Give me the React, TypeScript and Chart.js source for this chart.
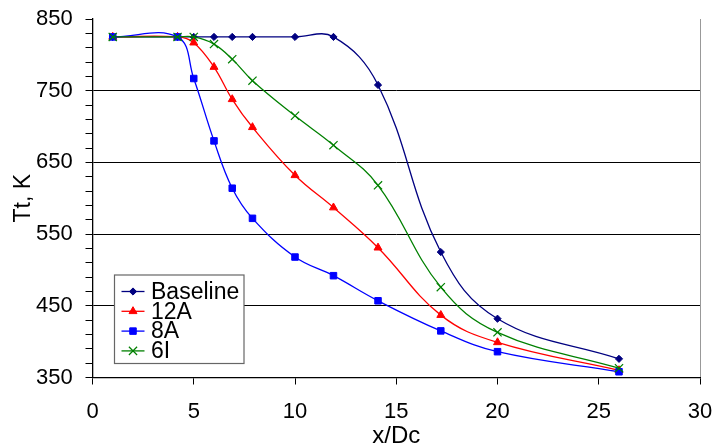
import React, { useEffect, useRef } from 'react';
import { Chart, registerables } from 'chart.js';
import { drawPoint } from 'chart.js/helpers';

Chart.register(...registerables);

// ---- data ----
const xPositions = [1, 4.2, 5, 6, 6.9, 7.9, 10, 11.9, 14.1, 17.2, 20, 26];
const baselineValues = [825, 825, 825, 825, 825, 825, 825, 825, 758, 525, 432, 376];
const values12A = [825, 825, 817, 783, 738, 699, 632, 587, 531, 437, 399, 360];
const values8A = [825, 825, 767, 680, 614, 572, 518, 492, 457, 415, 386, 358];
const values6I = [825, 825, 825, 815, 794, 764, 715, 674, 618, 476, 413, 363];
const seriesNames = ['Baseline', '12A', '8A', '6I'];
const xTickValues = [0, 5, 10, 15, 20, 25, 30];
const yTickLabels = [350, 450, 550, 650, 750, 850];

const FONT = '"Liberation Sans", Arial, sans-serif';

const seriesStyles = [
  { color: '#000080', pointStyle: 'rectRot', radius: 3.6, borderWidth: 1 },
  { color: '#FF0000', pointStyle: 'triangle', radius: 4.6, borderWidth: 1 },
  { color: '#0000FF', pointStyle: 'rect', radius: 4.6, borderWidth: 1 },
  { color: '#008000', pointStyle: 'crossRot', radius: 5.8, borderWidth: 1.2 },
];

const seriesValues = [baselineValues, values12A, values8A, values6I];

// desired plot-area frame inside the 713x444 canvas
const AREA = { left: 92.5, top: 19, right: 700, bottom: 377.5 };

const boxLegend = {
  id: 'boxLegend',
  afterDatasetsDraw(chart: any) {
    const { ctx, chartArea } = chart;
    const left = chartArea.left + 22;
    const top = chartArea.bottom - 102.5;
    const w = 129.5;
    const h = 88.5;
    ctx.save();
    ctx.fillStyle = '#ffffff';
    ctx.fillRect(left, top, w, h);
    ctx.strokeStyle = '#666666';
    ctx.lineWidth = 1.2;
    ctx.strokeRect(left, top, w, h);
    ctx.font = `23px ${FONT}`;
    ctx.textBaseline = 'middle';
    ctx.textAlign = 'left';
    seriesNames.forEach((name, i) => {
      const st = seriesStyles[i];
      const y = top + 16.5 + i * 19.8;
      ctx.strokeStyle = st.color;
      ctx.fillStyle = st.color;
      ctx.lineWidth = 1.3;
      ctx.beginPath();
      ctx.moveTo(left + 7, y);
      ctx.lineTo(left + 30, y);
      ctx.stroke();
      ctx.lineWidth = st.borderWidth;
      drawPoint(ctx, { pointStyle: st.pointStyle, radius: st.radius, borderWidth: st.borderWidth, rotation: 0 } as any, left + 18.5, y);
      ctx.fillStyle = '#000000';
      ctx.fillText(name, left + 36.5, y + 1);
    });
    ctx.restore();
  },
};

const zeroPadding = (scale: any) => {
  scale.paddingLeft = 0;
  scale.paddingRight = 0;
  scale.paddingTop = 0;
  scale.paddingBottom = 0;
};

export default function App() {
  const ref = useRef<HTMLCanvasElement>(null);

  useEffect(() => {
    const canvas = ref.current;
    if (!canvas) return;

    const datasets = seriesNames.map((name, i) => ({
      label: name,
      data: xPositions.map((x, j) => ({ x, y: seriesValues[i][j] })),
      borderColor: seriesStyles[i].color,
      backgroundColor: seriesStyles[i].color,
      pointBackgroundColor: seriesStyles[i].color,
      pointBorderColor: seriesStyles[i].color,
      pointStyle: seriesStyles[i].pointStyle as any,
      pointRadius: seriesStyles[i].radius,
      pointBorderWidth: seriesStyles[i].borderWidth,
      borderWidth: 1.3,
      tension: 0.4,
      fill: false,
      order: seriesNames.length - i,
      clip: false as any,
    }));

    const padding = { top: AREA.top, right: 713 - AREA.right, left: 0, bottom: 0 };

    const chart = new Chart(canvas, {
      type: 'line',
      data: { datasets },
      options: {
        responsive: false,
        devicePixelRatio: 1,
        animation: false,
        events: [],
        layout: { padding: { ...padding } },
        plugins: {
          legend: { display: false },
          tooltip: { enabled: false },
        },
        scales: {
          x: {
            type: 'linear',
            min: xTickValues[0],
            max: xTickValues[xTickValues.length - 1],
            afterBuildTicks: (scale: any) => {
              scale.ticks = xTickValues.map((v) => ({ value: v }));
            },
            ticks: {
              autoSkip: false,
              maxRotation: 0,
              color: '#000',
              padding: 14,
              font: { family: FONT, size: 22 },
            },
            grid: {
              drawOnChartArea: true,
              color: (c: any) => (c.tick && c.tick.value === 30 ? '#999999' : 'rgba(0,0,0,0)'),
              tickColor: '#000',
              tickLength: 7,
              lineWidth: 1,
            },
            border: { color: '#000', width: 1.3 },
            title: {
              display: true,
              text: 'x/Dc',
              color: '#000',
              font: { family: FONT, size: 24, lineHeight: 0.6 },
              padding: 0,
            },
            afterFit: (scale: any) => {
              scale.height = 444 - AREA.bottom;
              zeroPadding(scale);
            },
          },
          y: {
            type: 'linear',
            min: yTickLabels[0],
            max: yTickLabels[yTickLabels.length - 1],
            ticks: {
              stepSize: 20,
              autoSkip: false,
              color: '#000',
              padding: 12.8,
              font: { family: FONT, size: 22 },
              callback: (v: any) => {
                const n = Math.round(Number(v));
                return yTickLabels.includes(n) ? String(n) : '';
              },
            },
            grid: {
              drawOnChartArea: true,
              color: (c: any) => {
                if (!c.tick) return 'rgba(0,0,0,0)';
                const n = Math.round(c.tick.value);
                return yTickLabels.includes(n) && n !== 850 && n !== 350 ? '#000' : 'rgba(0,0,0,0)';
              },
              tickColor: '#000',
              tickLength: 7,
              lineWidth: 1,
            },
            border: { color: '#000', width: 1.3 },
            title: {
              display: true,
              text: 'Tt, K',
              color: '#000',
              font: { family: FONT, size: 23 },
              padding: { top: 9.6, bottom: 0 },
            },
            afterFit: (scale: any) => {
              scale.width = AREA.left;
              zeroPadding(scale);
            },
          },
        },
      },
      plugins: [boxLegend],
    } as any);

    // nudge the layout padding so that the plot area lands on the reference frame
    for (let k = 0; k < 4; k++) {
      const a = chart.chartArea;
      const dTop = AREA.top - a.top;
      const dRight = a.right - AREA.right;
      if (Math.abs(dTop) < 0.05 && Math.abs(dRight) < 0.05) break;
      padding.top = Math.max(0, padding.top + dTop);
      padding.right = Math.max(0, padding.right + dRight);
      (chart.options as any).layout.padding = { ...padding };
      chart.update();
    }

    return () => chart.destroy();
  }, []);

  return (
    <div style={{ position: 'absolute', left: 0, top: 0, width: 713, height: 444, background: '#fff' }}>
      <canvas ref={ref} width={713} height={444} style={{ width: '713px', height: '444px', display: 'block' }} />
    </div>
  );
}
